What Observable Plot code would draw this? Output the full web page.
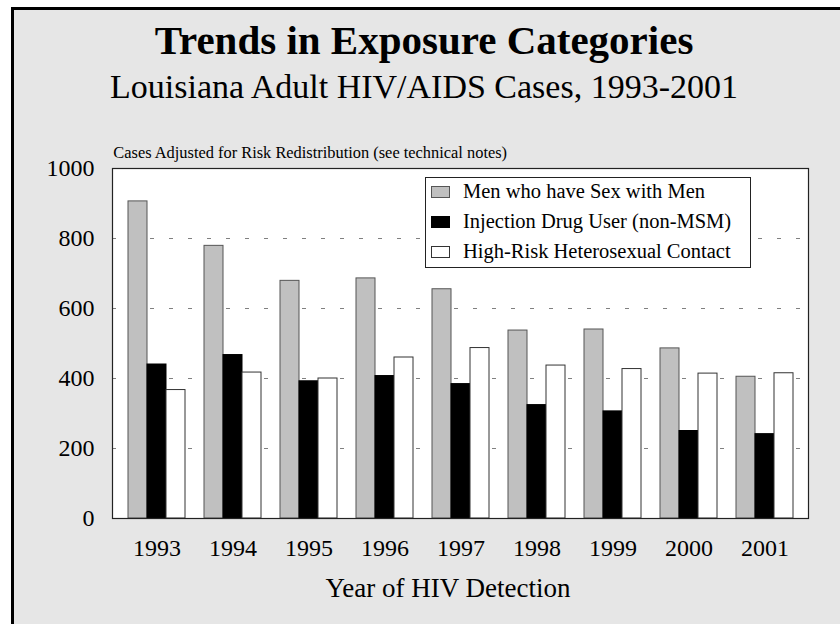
<!DOCTYPE html>
<html>
<head>
<meta charset="utf-8">
<script src="https://cdn.jsdelivr.net/npm/d3@7"></script>
<script src="https://cdn.jsdelivr.net/npm/@observablehq/plot@0.6"></script>
<style>
  html, body { margin: 0; padding: 0; background: #ffffff; }
  #frame {
    position: absolute; left: 11px; top: 7px; width: 829px; height: 617px;
    border-left: 3px solid #000; border-top: 3px solid #000;
    background: #e6e6e6; box-sizing: border-box; overflow: hidden;
    font-family: "Liberation Serif", "Times New Roman", serif; color: #000;
  }
  .txt { position: absolute; white-space: nowrap; }
  #title { left: 0; width: 820px; text-align: center; top: 10.2px; font-size: 41px; line-height: 41px; font-weight: bold; }
  #subtitle { left: 0; width: 820px; text-align: center; top: 59.8px; font-size: 34px; line-height: 34px; }
  #note { left: 99.3px; top: 134.6px; font-size: 16.4px; line-height: 16.4px; }
  #xlabel { left: 0; width: 868px; text-align: center; top: 565px; font-size: 27px; line-height: 27px; }
  #chart { position: absolute; left: 0; top: 120px; width: 826px; }
  #legend {
    position: absolute; left: 411px; top: 167px; width: 326px; height: 91px;
    box-sizing: border-box; border: 1px solid #222; background: #fff;
  }
  .row { position: absolute; left: 5px; height: 12px; }
  .sw { position: absolute; left: 0; top: 0; width: 19px; height: 12px; box-sizing: border-box; border: 1px solid #444; }
  .lt { position: absolute; left: 32px; top: -4.6px; font-size: 20.5px; line-height: 20.5px; white-space: nowrap; }
</style>
</head>
<body>
<div id="frame">
  <div id="title" class="txt">Trends in Exposure Categories</div>
  <div id="subtitle" class="txt">Louisiana Adult HIV/AIDS Cases, 1993-2001</div>
  <div id="note" class="txt">Cases Adjusted for Risk Redistribution (see technical notes)</div>
  <div id="chart"></div>
  <div id="legend"></div>
  <div id="xlabel" class="txt">Year of HIV Detection</div>
</div>
<script>
const years = ["1993", "1994", "1995", "1996", "1997", "1998", "1999", "2000", "2001"];
const series = ["Men who have Sex with Men", "Injection Drug User (non-MSM)", "High-Risk Heterosexual Contact"];
const msm = [906, 779, 679, 686, 655, 537, 540, 486, 405];
const idu = [440, 467, 392, 407, 384, 324, 306, 250, 241];
const het = [367, 417, 400, 460, 487, 437, 427, 414, 415];
const yTicks = [0, 200, 400, 600, 800, 1000];
const gridValues = [200, 400, 600, 800];

const fills = ["#c0c0c0", "#000000", "#ffffff"];
const strokes = ["#555555", "#000000", "#333333"];
const values = [msm, idu, het];

// Band keys: three adjacent bars per year, with an empty slot between years
const key = (yr, j) => yr + "|" + j;
const xDomain = years.flatMap((yr, i) => {
  const k = series.map((s, j) => key(yr, j));
  return i < years.length - 1 ? [...k, yr + "|gap"] : k;
});
const xTicks = years.map(yr => key(yr, 1));

const rows = years.flatMap((yr, i) => series.map((s, j) => ({year: yr, series: s, key: key(yr, j), value: values[j][i]})));

const chart = Plot.plot({
  width: 826,
  height: 494,
  marginLeft: 98,
  marginRight: 32,
  marginTop: 38,
  marginBottom: 106,
  style: {fontFamily: '"Liberation Serif", "Times New Roman", serif', fontSize: "24px", background: "transparent", color: "#000"},
  x: {domain: xDomain, paddingInner: 0, paddingOuter: 0.5, ticks: xTicks, tickFormat: k => k.split("|")[0], tickSize: 0, tickPadding: 20, label: null},
  y: {domain: [0, 1000], ticks: yTicks, tickFormat: d => String(d), tickSize: 0, tickPadding: 18, label: null},
  marks: [
    Plot.frame({fill: "#ffffff", stroke: "none"}),
    Plot.ruleY(gridValues, {stroke: "#808080", strokeDasharray: "4,15"}),
    ...series.map((s, j) => Plot.barY(rows.filter(r => r.series === s), {
      x: "key", y: "value", fill: fills[j], stroke: strokes[j], strokeWidth: 1
    })),
    Plot.frame({stroke: "#222222", strokeWidth: 1.2})
  ]
});
document.getElementById("chart").appendChild(chart);

const legend = document.getElementById("legend");
series.forEach((s, j) => {
  const row = document.createElement("div");
  row.className = "row";
  row.style.top = (8 + 30 * j) + "px";
  const sw = document.createElement("div");
  sw.className = "sw";
  sw.style.background = fills[j];
  sw.style.borderColor = strokes[j];
  const lt = document.createElement("div");
  lt.className = "lt";
  lt.textContent = s;
  row.appendChild(sw);
  row.appendChild(lt);
  legend.appendChild(row);
});
</script>
</body>
</html>
